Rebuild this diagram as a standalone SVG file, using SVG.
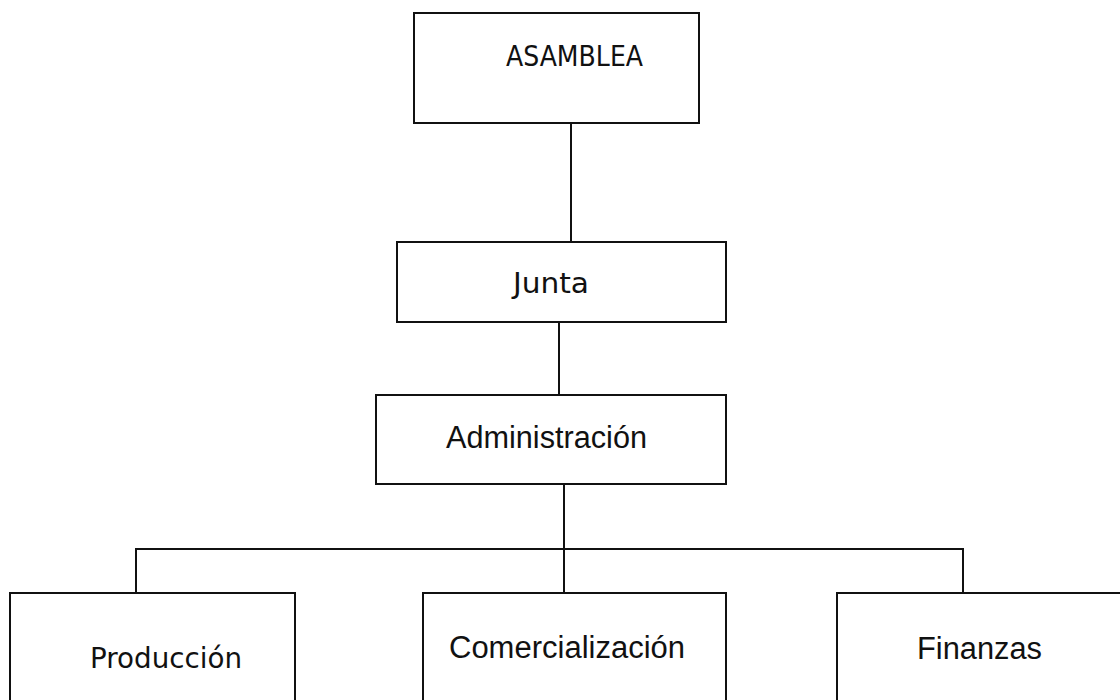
<svg xmlns="http://www.w3.org/2000/svg" width="1120" height="700" viewBox="0 0 1120 700">
<style>
.box{fill:#fff;stroke:#111;stroke-width:2}
.ln{stroke:#111;stroke-width:2;fill:none}
.t1{font-family:"DejaVu Sans","Liberation Sans",sans-serif;font-size:28px;fill:#111}
.t2{font-family:"Liberation Sans",Arial,sans-serif;font-size:31px;fill:#111}
</style>
<rect width="1120" height="700" fill="#fff"/>
<g id="connectors">
<line class="ln" x1="571" y1="123" x2="571" y2="246"/>
<line class="ln" x1="559" y1="322" x2="559" y2="395"/>
<line class="ln" x1="564" y1="484" x2="564" y2="593"/>
<polyline class="ln" points="136,593 136,549 963,549 963,593"/>
</g>
<g id="asamblea">
<rect class="box" x="414" y="13" width="285" height="110"/>
<text class="t1" x="506" y="66" textLength="137" lengthAdjust="spacingAndGlyphs">ASAMBLEA</text>
</g>
<g id="junta">
<rect class="box" x="397" y="242" width="329" height="80"/>
<text class="t1" x="513" y="293" textLength="76" lengthAdjust="spacingAndGlyphs">Junta</text>
</g>
<g id="administracion">
<rect class="box" x="376" y="395" width="350" height="89"/>
<text class="t2" x="446" y="448" textLength="201" lengthAdjust="spacingAndGlyphs">Administración</text>
</g>
<g id="produccion">
<rect class="box" x="10" y="593" width="285" height="130"/>
<text class="t1" x="90" y="668" textLength="152" lengthAdjust="spacingAndGlyphs">Producción</text>
</g>
<g id="comercializacion">
<rect class="box" x="423" y="593" width="303" height="130"/>
<text class="t2" x="449" y="658" textLength="236" lengthAdjust="spacingAndGlyphs">Comercialización</text>
</g>
<g id="finanzas">
<rect class="box" x="837" y="593" width="300" height="130"/>
<text class="t2" x="917" y="659" textLength="125" lengthAdjust="spacingAndGlyphs">Finanzas</text>
</g>
</svg>
